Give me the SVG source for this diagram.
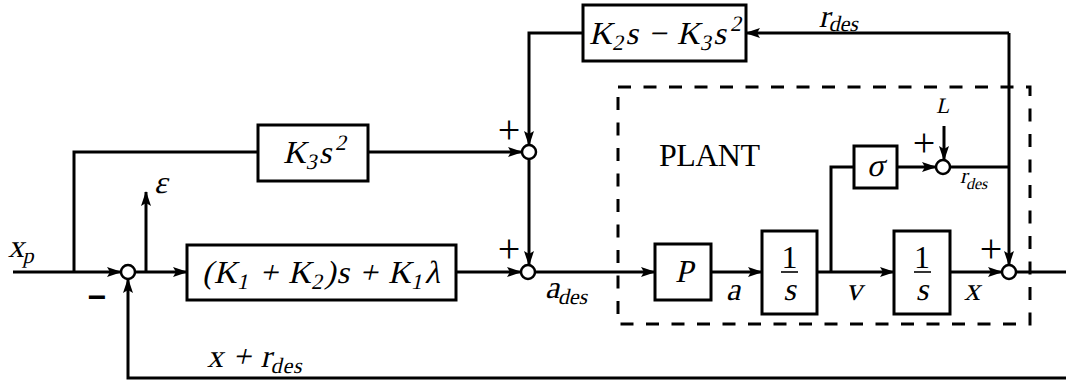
<svg xmlns="http://www.w3.org/2000/svg" width="1066" height="381" viewBox="0 0 1066 381">
<defs>
<marker id="arr" markerUnits="userSpaceOnUse" markerWidth="15" markerHeight="10" refX="14" refY="5" orient="auto">
<path d="M0,0 L15,5 L0,10 L3,5 z" fill="#000"/>
</marker>
<style>
.w{fill:none;stroke:#000;stroke-width:3}
.a{marker-end:url(#arr)}
.box{fill:#fff;stroke:#000;stroke-width:3}
.j{fill:#fff;stroke:#000;stroke-width:2.5}
.dash{fill:none;stroke:#000;stroke-width:3;stroke-dasharray:13 12.5}
.m{font-family:"Liberation Serif",serif;font-size:32px;fill:#000}
.s{font-family:"Liberation Serif",serif;font-size:22px;fill:#000}
.sub{font-size:22px}
.ssub{font-size:16px}
.rm{font-family:"Liberation Serif",serif;font-size:32px;fill:#000}
.plus{font-family:"Liberation Serif",serif;font-size:40px;fill:#000;text-anchor:middle}
.bar{stroke:#000;stroke-width:1.6}
</style>
</defs>

<rect id="plant" class="dash" x="618" y="87" width="412" height="237"/>

<g id="connectors">
<path class="w a" d="M13,272 H121"/>
<path class="w" d="M74,272 V152 H258"/>
<path class="w a" d="M368,152 H522"/>
<path class="w a" d="M135,272 H187"/>
<path class="w a" d="M146,272 V192"/>
<path class="w a" d="M456,272 H521"/>
<path class="w a" d="M529,159 V265"/>
<path class="w a" d="M1009,33 H746"/>
<path class="w a" d="M1009,33 V265"/>
<path class="w a" d="M583,33 H529 V145"/>
<path class="w a" d="M535,272 H655"/>
<path class="w a" d="M711,272 H762"/>
<path class="w a" d="M817,272 H894"/>
<path class="w" d="M831,272 V167 H854"/>
<path class="w a" d="M897,167 H936"/>
<path class="w a" d="M944,126 V160"/>
<path class="w" d="M950,167 H1009"/>
<path class="w a" d="M950,272 H1002"/>
<path class="w" d="M1016,272 H1066"/>
<path class="w a" d="M1066,378 H128 V279"/>
</g>

<g id="sum1"><circle class="j" cx="128" cy="272" r="7"/>
<text x="97" y="308" font-family="Liberation Sans" font-weight="bold" font-size="32" text-anchor="middle">−</text></g>
<g id="sum2"><circle class="j" cx="529" cy="152" r="7"/><text class="plus" x="509" y="143">+</text></g>
<g id="sum3"><circle class="j" cx="528" cy="272" r="7"/><text class="plus" x="509" y="262">+</text></g>
<g id="sum4"><circle class="j" cx="943" cy="167" r="7"/><text class="plus" x="924" y="156">+</text></g>
<g id="sum5"><circle class="j" cx="1009" cy="272" r="7"/><text class="plus" x="991" y="262">+</text></g>

<g id="ff2"><rect class="box" x="583" y="5" width="163" height="56"/>
<text class="m" transform="translate(0,44) skewX(-13)" x="589" y="0" textLength="149">K<tspan class="sub" dy="6">2</tspan><tspan dy="-6">s − K</tspan><tspan class="sub" dy="6">3</tspan><tspan dy="-6">s</tspan><tspan class="sub" dy="-13">2</tspan></text></g>

<g id="ff1"><rect class="box" x="258" y="125" width="110" height="56"/>
<text class="m" transform="translate(0,163) skewX(-13)" x="283" y="0" textLength="60">K<tspan class="sub" dy="6">3</tspan><tspan dy="-6">s</tspan><tspan class="sub" dy="-13">2</tspan></text></g>

<g id="ctrl"><rect class="box" x="187" y="245" width="269" height="55"/>
<text class="m" transform="translate(0,283) skewX(-13)" x="202" y="0" textLength="238">(K<tspan class="sub" dy="6">1</tspan><tspan dy="-6"> + K</tspan><tspan class="sub" dy="6">2</tspan><tspan dy="-6">)s + K</tspan><tspan class="sub" dy="6">1</tspan><tspan dy="-6">λ</tspan></text></g>

<g id="P"><rect class="box" x="655" y="244" width="56" height="56"/>
<text class="m" transform="translate(0,282) skewX(-13)" x="684" y="0" text-anchor="middle">P</text></g>

<g id="int1"><rect class="box" x="762" y="231" width="55" height="83"/>
<text class="rm" x="789.5" y="268" text-anchor="middle">1</text>
<line class="bar" x1="781" y1="272" x2="798" y2="272"/>
<text class="m" transform="translate(0,300) skewX(-13)" x="789.5" y="0" text-anchor="middle">s</text></g>

<g id="int2"><rect class="box" x="894" y="231" width="56" height="83"/>
<text class="rm" x="922" y="268" text-anchor="middle">1</text>
<line class="bar" x1="914" y1="272" x2="931" y2="272"/>
<text class="m" transform="translate(0,300) skewX(-13)" x="922" y="0" text-anchor="middle">s</text></g>

<g id="sigma"><rect class="box" x="854" y="146" width="43" height="42"/>
<text class="m" transform="translate(0,176) skewX(-13)" x="875.5" y="0" text-anchor="middle">σ</text></g>

<g id="labels">
<text class="m" transform="translate(0,257) skewX(-13)" x="8" y="0">x<tspan class="sub" dy="6">p</tspan></text>
<text class="m" transform="translate(0,193) skewX(-13)" x="154" y="0">ε</text>
<text class="m" font-size="27" transform="skewX(-13)" x="825" y="27">r<tspan class="sub" font-size="19" dy="4">des</tspan></text>
<text class="m" transform="translate(0,298) skewX(-13)" x="545" y="0">a<tspan class="sub" dy="6">des</tspan></text>
<text class="rm" font-size="30" x="659" y="166" textLength="101">PLANT</text>
<text class="s" transform="translate(0,113) skewX(-13)" x="936" y="0">L</text>
<text class="s" transform="translate(0,183) skewX(-13)" x="960" y="0">r<tspan class="ssub" dy="6">des</tspan></text>
<text class="m" transform="translate(0,300) skewX(-13)" x="726" y="0">a</text>
<text class="m" transform="translate(0,300) skewX(-13)" x="846" y="0">v</text>
<text class="m" transform="translate(0,300) skewX(-13)" x="964" y="0">x</text>
<text class="m" transform="translate(0,367) skewX(-13)" x="207" y="0" textLength="96">x + r<tspan class="sub" dy="6">des</tspan></text>
</g>
</svg>
